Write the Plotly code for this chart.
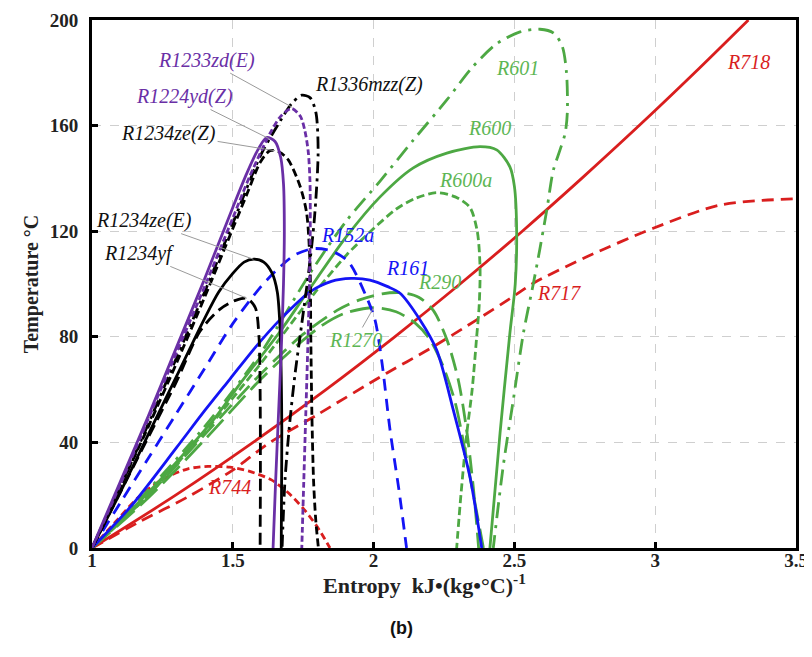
import plotly.graph_objects as go

# ---------------- data (entropy s, temperature T) ----------------
R718_s = [1.0, 1.297, 1.572, 1.831, 2.075, 2.307, 2.528, 2.739, 2.943, 3.140, 3.331]
R718_T = [0, 20, 40, 60, 80, 100, 120, 140, 160, 180, 200]

R717_s = [1.0, 1.17, 1.341, 1.5, 1.625, 1.8, 2.046, 2.2, 2.366, 2.495, 2.567, 2.757, 2.993, 3.23, 3.5]
R717_T = [0, 10, 19.4, 29.5, 39.5, 50.5, 66.2, 75.5, 86.4, 95.2, 100.3, 110.3, 121.1, 129.9, 132.3]

R744_s = [1.0, 1.08, 1.163, 1.25, 1.341, 1.412, 1.49, 1.56, 1.637, 1.696, 1.75, 1.8, 1.845]
R744_T = [0, 9.5, 19.0, 26, 30.0, 30.9, 30.6, 29, 25.8, 21, 15, 8, 0]

R1224ydZ_s = [1.0, 1.1, 1.2, 1.3, 1.4, 1.5, 1.55, 1.59, 1.62, 1.65, 1.67, 1.68, 1.683, 1.68, 1.672, 1.662, 1.652, 1.643]
R1224ydZ_T = [0, 25, 50, 76, 102, 129, 142, 151, 155.5, 154, 148, 138, 120, 100, 75, 50, 25, 0]

R1233zdE_s = [1.0, 1.1, 1.2, 1.3, 1.4, 1.5, 1.561, 1.632, 1.67, 1.709, 1.74, 1.756, 1.768, 1.774, 1.775, 1.772, 1.766, 1.759, 1.752, 1.745]
R1233zdE_T = [0, 24, 49, 74, 99, 125, 141, 157, 163.5, 166.5, 163.5, 158, 150, 139, 120, 100, 75, 50, 25, 0]

R1234zeZ_s = [1.0, 1.1, 1.2, 1.3, 1.4, 1.5, 1.55, 1.597, 1.632, 1.665, 1.697, 1.739, 1.762, 1.774, 1.777, 1.781, 1.787, 1.795, 1.804]
R1234zeZ_T = [0, 23, 46, 70, 95, 121, 134, 146, 150.5, 150, 147, 137, 127, 108, 80, 50, 25, 10, 0]

R1336mzzZ_s = [1.0, 1.1, 1.2, 1.3, 1.4, 1.5, 1.6, 1.67, 1.71, 1.745, 1.775, 1.795, 1.803, 1.79, 1.77, 1.745, 1.72, 1.7, 1.685, 1.675]
R1336mzzZ_T = [0, 23, 47, 72, 97, 123, 149, 162, 168.5, 171.5, 170.5, 165, 150, 125, 105, 85, 65, 45, 25, 0]

R1234zeE_s = [1.0, 1.1, 1.2, 1.3, 1.4, 1.45, 1.5, 1.54, 1.575, 1.61, 1.64, 1.658, 1.667, 1.672, 1.674, 1.673, 1.672]
R1234zeE_T = [0, 21, 43, 65, 87, 97, 104, 108.3, 109.4, 108.3, 104, 97, 85, 65, 45, 20, 0]

R1234yf_s = [1.0, 1.1, 1.2, 1.3, 1.383, 1.455, 1.51, 1.55, 1.58, 1.593, 1.597, 1.598, 1.597]
R1234yf_T = [0, 21, 42, 63, 82, 90.5, 93.8, 94.6, 91, 80, 60, 30, 0]

R152a_s = [1.0, 1.1, 1.2, 1.3, 1.4, 1.5, 1.6, 1.668, 1.72, 1.786, 1.85, 1.91, 1.975, 2.005, 2.03, 2.058, 2.09, 2.117]
R152a_T = [0, 17, 34, 51, 68, 85, 99, 106.5, 111, 113.4, 112.5, 108.5, 95, 86.4, 70, 45, 22, 0]

R161_s = [1.0, 1.14, 1.3, 1.4, 1.49, 1.58, 1.668, 1.774, 1.85, 1.92, 1.987, 2.05, 2.094, 2.165, 2.224, 2.283, 2.342, 2.384]
R161_T = [0, 16, 38, 52, 64, 76, 86.5, 97, 101, 102.1, 101.5, 99, 96.5, 86.4, 75, 52.3, 27, 0]

R1270_s = [1.0, 1.2, 1.4, 1.6, 1.72, 1.82, 1.9, 2.0, 2.08, 2.15, 2.2, 2.25, 2.29, 2.33, 2.36, 2.39]
R1270_T = [0, 19, 41, 64, 76, 84.5, 89, 91, 89.5, 85, 79, 68, 55, 34, 17, 0]

R290_s = [1.0, 1.2, 1.4, 1.6, 1.75, 1.87, 1.95, 2.03, 2.1, 2.16, 2.212, 2.26, 2.3, 2.33, 2.355, 2.373]
R290_T = [0, 20, 43, 66, 81, 90, 94, 96.3, 96.7, 95, 90, 79, 64, 45, 22, 0]

R600a_s = [1.0, 1.2, 1.4, 1.6, 1.786, 1.904, 2.0, 2.082, 2.15, 2.224, 2.29, 2.342, 2.368, 2.378, 2.375, 2.366, 2.35, 2.331, 2.31, 2.295]
R600a_T = [0, 20, 44, 70, 96, 111, 121, 128.5, 132.5, 134.6, 133, 129, 120, 106.5, 92, 80, 60, 43.5, 20, 0]

R600_s = [1.0, 1.2, 1.431, 1.524, 1.668, 1.762, 1.904, 2.023, 2.141, 2.26, 2.378, 2.437, 2.484, 2.5, 2.508, 2.503, 2.484, 2.449, 2.413]
R600_T = [0, 21, 48.5, 62, 82, 96.5, 118, 133, 144, 149.6, 152, 150.8, 144.4, 137, 120, 100, 81.4, 43.5, 0]

R601_s = [1.0, 1.2, 1.4, 1.6, 1.786, 1.904, 2.023, 2.141, 2.26, 2.35, 2.437, 2.52, 2.591, 2.64, 2.67, 2.685, 2.688, 2.68, 2.662, 2.638, 2.615, 2.59, 2.567, 2.532, 2.496, 2.46, 2.425]
R601_T = [0, 22, 46, 74, 106, 124, 139, 154.5, 169.7, 182, 191, 195.5, 196.5, 195, 190, 180, 165, 157, 150.8, 143, 128, 113, 100, 81.4, 56, 30.8, 0]

# tick labels
x_ticks = [1, 1.5, 2, 2.5, 3, 3.5]
x_ticktext = ["1", "1.5", "2", "2.5", "3", "3.5"]
y_ticks = [0, 40, 80, 120, 160, 200]
y_ticktext = ["0", "40", "80", "120", "160", "200"]

# curve labels: name, text x, text y, leader target x, target y (None = no leader)
label_names = ["R718", "R601", "R600", "R600a", "R290", "R161", "R152a", "R1270", "R717", "R744",
               "R1233zd(E)", "R1336mzz(Z)", "R1224yd(Z)", "R1234ze(Z)", "R1234ze(E)", "R1234yf"]
label_x = [3.33, 2.51, 2.413, 2.325, 2.235, 2.12, 1.906, 1.935, 2.658, 1.49,
           1.407, 1.984, 1.328, 1.272, 1.186, 1.167]
label_y = [184, 182, 159, 139.4, 100.9, 106, 118.6, 78.8, 96.6, 23,
           184.8, 175.4, 171, 157, 124, 111.6]
leader_x = [None, None, None, None, None, None, None, 2.0, None, None,
            1.71, None, 1.63, 1.65, 1.573, 1.55]
leader_y = [None, None, None, None, None, None, None, 91, None, None,
            167, None, 155, 150.5, 109.4, 94.6]

# ---------------- styles ----------------
PURPLE = "#6A2FA6"
BLACK = "#000000"
BLUE = "#1414F5"
GREEN = "#4DA843"
RED = "#D91E1E"
LGREEN = "#5DB654"

label_colors = {
    "R718": RED, "R717": RED, "R744": RED,
    "R601": LGREEN, "R600": LGREEN, "R600a": LGREEN, "R290": LGREEN, "R1270": LGREEN,
    "R161": BLUE, "R152a": BLUE,
    "R1233zd(E)": PURPLE, "R1224yd(Z)": PURPLE,
    "R1336mzz(Z)": "#111111", "R1234ze(Z)": "#111111", "R1234ze(E)": "#111111", "R1234yf": "#111111",
}

curves = [
    ("R718", R718_s, R718_T, RED, "solid"),
    ("R717", R717_s, R717_T, RED, "12px,7px"),
    ("R744", R744_s, R744_T, RED, "7px,4px"),
    ("R601", R601_s, R601_T, GREEN, "16px,7px,3px,7px"),
    ("R600", R600_s, R600_T, GREEN, "solid"),
    ("R600a", R600a_s, R600a_T, GREEN, "8px,4px"),
    ("R290", R290_s, R290_T, GREEN, "18px,8px"),
    ("R1270", R1270_s, R1270_T, GREEN, "24px,8px"),
    ("R161", R161_s, R161_T, BLUE, "solid"),
    ("R152a", R152a_s, R152a_T, BLUE, "12px,8px"),
    ("R1234yf", R1234yf_s, R1234yf_T, BLACK, "12px,6px"),
    ("R1234ze(E)", R1234zeE_s, R1234zeE_T, BLACK, "solid"),
    ("R1336mzz(Z)", R1336mzzZ_s, R1336mzzZ_T, BLACK, "12px,5px,3px,5px"),
    ("R1234ze(Z)", R1234zeZ_s, R1234zeZ_T, BLACK, "8px,4px"),
    ("R1233zd(E)", R1233zdE_s, R1233zdE_T, PURPLE, "6px,3px"),
    ("R1224yd(Z)", R1224ydZ_s, R1224ydZ_T, PURPLE, "solid"),
]

fig = go.Figure()
for name, xs, ys, col, dash in curves:
    fig.add_trace(go.Scatter(
        x=xs, y=ys, mode="lines", name=name,
        line=dict(color=col, width=2.8, dash=dash, shape="spline", smoothing=0.8),
        hoverinfo="name", showlegend=False,
    ))

LABEL_FONT = "Liberation Serif, Times New Roman, serif"
annotations = []
for name, tx, ty, lx, ly in zip(label_names, label_x, label_y, leader_x, leader_y):
    f = dict(family=LABEL_FONT, size=20, color=label_colors[name], style="italic")
    if lx is None:
        annotations.append(dict(x=tx, y=ty, xref="x", yref="y", text=name, showarrow=False, font=f))
    else:
        annotations.append(dict(x=lx, y=ly, xref="x", yref="y", ax=tx, ay=ty, axref="x", ayref="y",
                                text=name, showarrow=True, arrowhead=0, arrowwidth=1,
                                arrowcolor="#9A9A9A", font=f, standoff=0, startstandoff=0))

# x-axis title and caption
annotations.append(dict(x=0.472, y=-0.069, xref="paper", yref="paper",
                        text="<b>Entropy  kJ•(kg•°C)<sup>-1</sup></b>", showarrow=False,
                        font=dict(family=LABEL_FONT, size=22, color="#222"),
                        xanchor="center", yanchor="middle"))
annotations.append(dict(x=0.44, y=-0.152, xref="paper", yref="paper",
                        text="<b>(b)</b>", showarrow=False,
                        font=dict(family="Liberation Sans, Arial, sans-serif", size=18, color="#111"),
                        xanchor="center", yanchor="middle"))

TICKFONT = dict(family=LABEL_FONT, size=19, color="#222", weight="bold")
axis_common = dict(showline=True, linecolor="black", linewidth=3, mirror=True,
                   ticks="inside", ticklen=6, tickwidth=3, tickcolor="black",
                   showgrid=True, gridcolor="#CFCFCF", griddash="dash", gridwidth=1,
                   zeroline=False, tickfont=TICKFONT, automargin=False)

fig.update_layout(
    width=804, height=649,
    margin=dict(l=84, r=16, t=12, b=109, autoexpand=False),
    paper_bgcolor="white", plot_bgcolor="white",
    annotations=annotations,
    xaxis=dict(range=[1, 3.5], tickvals=x_ticks, ticktext=x_ticktext,
               ticklabelstandoff=-7, **axis_common),
    yaxis=dict(range=[0, 200], tickvals=y_ticks, ticktext=y_ticktext,
               ticklabelstandoff=7, **axis_common,
               title=dict(text="<b>Temperature °C</b>", standoff=6,
                          font=dict(family=LABEL_FONT, size=20, color="#222"))),
)

fig.write_html("out.html")
